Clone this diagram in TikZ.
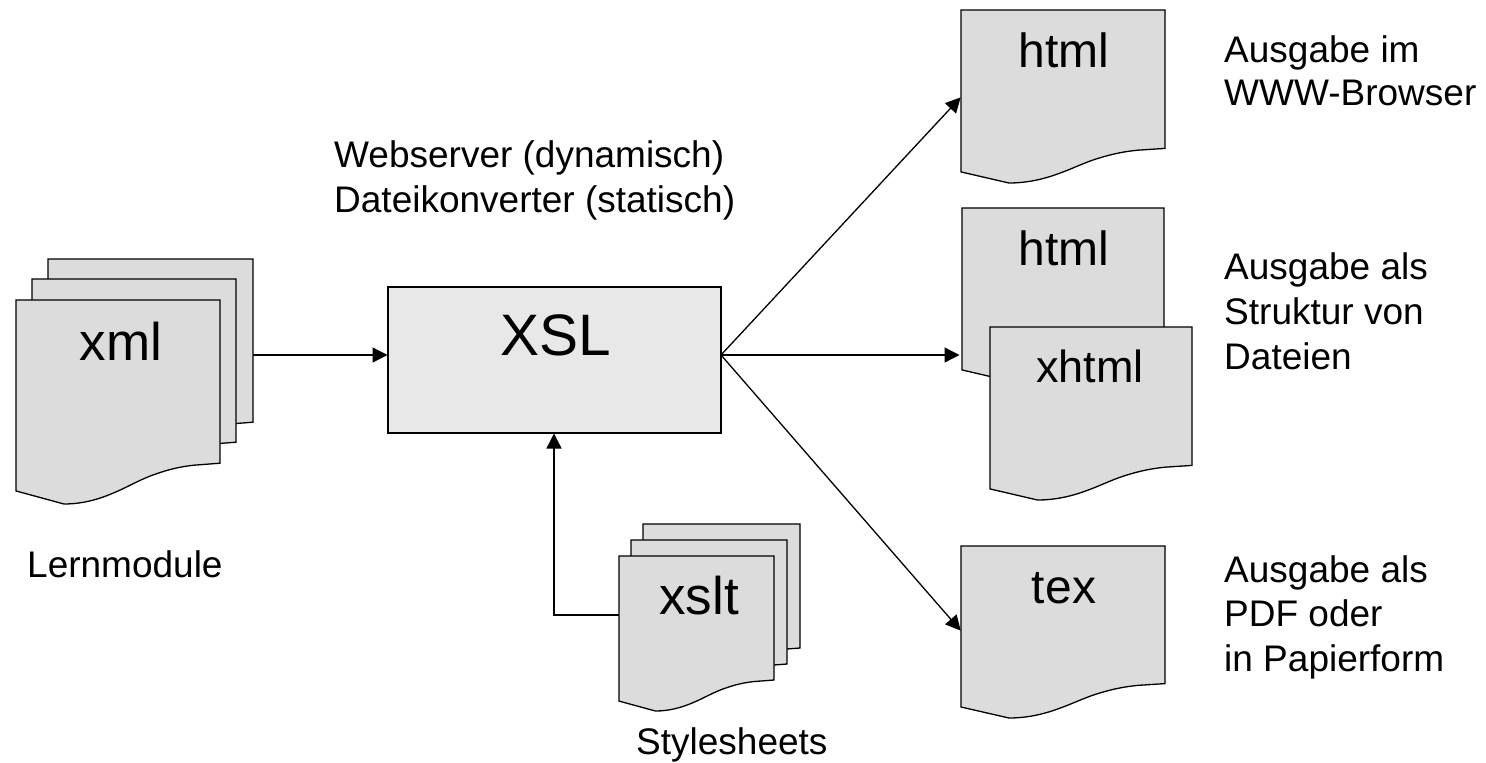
\documentclass[tikz,border=0pt]{standalone}
\usepackage{fontspec}
\setmainfont{Liberation Sans}
\usetikzlibrary{arrows.meta}
\tikzset{
  docline/.style={draw=black,line width=1.3pt,fill=docgray,line join=miter},
  conn/.style={draw=black,line width=1.3pt,-{Triangle[length=15pt,width=15pt]},shorten >=0.5pt},
  lab/.style={anchor=base west,inner sep=0pt,font=\fontsize{37}{44}\selectfont,text=black},
  doclab/.style={anchor=base,inner sep=0pt,text=black}
}
\definecolor{docgray}{HTML}{DCDCDC}
\definecolor{boxgray}{HTML}{E8E8E8}
% name, x, y(top), w, H
\newcommand{\docshape}[5]{%
  \draw[docline] (#2,#3) -- (#2+#4,#3) -- (#2+#4,#3+0.80*#5)
    -- (#2+0.87*#4,#3+0.81*#5)
    .. controls (#2+0.78*#4,#3+0.82*#5) and (#2+0.72*#4,#3+0.84*#5) .. (#2+0.66*#4,#3+0.862*#5)
    .. controls (#2+0.60*#4,#3+0.885*#5) and (#2+0.54*#4,#3+0.92*#5) .. (#2+0.48*#4,#3+0.945*#5)
    .. controls (#2+0.40*#4,#3+0.98*#5) and (#2+0.32*#4,#3+1.0*#5) .. (#2+0.235*#4,#3+1.0*#5)
    -- (#2,#3+0.936*#5) -- cycle;
  \node[inner sep=0pt,outer sep=0pt,minimum width=#4 pt,minimum height=#5 pt] (#1) at (#2+0.5*#4,#3+0.5*#5) {};
}
\begin{document}
\begin{tikzpicture}[x=1pt,y=-1pt]
\useasboundingbox (0,0) rectangle (1486,763);
% xml stack
\docshape{xmlback}{48}{259}{205}{204}
\docshape{xmlmid}{32}{279}{204}{204}
\docshape{xmlfront}{16}{300}{204}{204}
\node[doclab,font=\fontsize{53}{60}\selectfont] (xmltxt) at (121,360) {xml};
\node[lab] (lernmodule) at (27,577) {Lernmodule};
% XSL
\node[draw=black,line width=1.3pt,fill=boxgray,minimum width=333pt,minimum height=146pt,inner sep=0pt,outer sep=0pt] (xsl) at (554.5,360) {};
\node[doclab,font=\fontsize{58.5}{66}\selectfont] (xsltxt) at (556,355) {XSL};
\node[lab] (web) at (334,167) {Webserver (dynamisch)};
\node[lab] (konv) at (334,212) {Dateikonverter (statisch)};
% xslt stack
\docshape{xsltback}{643}{524}{157}{155}
\docshape{xsltmid}{631}{540}{156}{155}
\docshape{xsltfront}{619}{556}{155}{155}
\node[doclab,font=\fontsize{53}{60}\selectfont] (xslttxt) at (699,614) {xslt};
\node[lab] (styles) at (636,754) {Stylesheets};
% output docs
\docshape{htmla}{961}{10}{204}{173}
\node[doclab,font=\fontsize{48}{54}\selectfont] (htmlatxt) at (1064,67) {html};
\docshape{htmlb}{962}{208}{202}{173}
\node[doclab,font=\fontsize{48}{54}\selectfont] (htmlbtxt) at (1064,265) {html};
\docshape{tex}{961}{546}{204}{172}
\node[doclab,font=\fontsize{48}{54}\selectfont] (textxt) at (1064,603) {tex};
% coordinates
\coordinate (hub) at (721,355);
\coordinate (xslin) at (388,355);
\coordinate (xmlout) at (253,355);
\coordinate (xslbot) at (554,433);
\coordinate (xsltout) at (619,615);
\coordinate (bend) at (554,615);
\coordinate (ina) at (961,97);
\coordinate (inb) at (960,355);
\coordinate (inc) at (961,631);
% connectors
\draw[conn] (xmlout) -- (xslin);
\draw[conn] (xsltout) -- (bend) -- (xslbot);
\draw[conn] (hub) -- (ina);
\draw[conn] (hub) -- (inb);
\draw[conn] (hub) -- (inc);
% xhtml on top
\docshape{xhtml}{990}{327}{202}{173}
\node[doclab,font=\fontsize{45}{52}\selectfont] (xhtmltxt) at (1090,382) {xhtml};
% right labels
\node[lab] at (1224,62) (t1) {Ausgabe im};
\node[lab] at (1224,105) (t2) {WWW-Browser};
\node[lab] at (1224,279) (t3) {Ausgabe als};
\node[lab] at (1224,324) (t4) {Struktur von};
\node[lab] at (1224,369) (t5) {Dateien};
\node[lab] at (1224,582) (t6) {Ausgabe als};
\node[lab] at (1224,626) (t7) {PDF oder};
\node[lab] at (1224,671) (t8) {in Papierform};
\end{tikzpicture}
\end{document}
